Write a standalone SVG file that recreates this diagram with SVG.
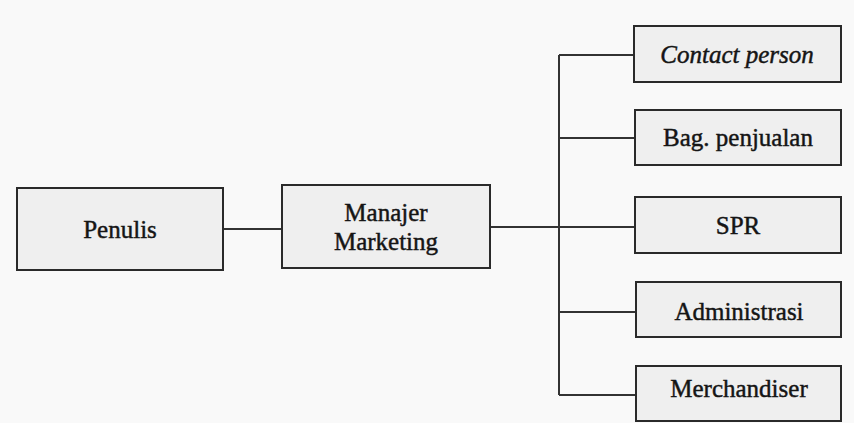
<svg xmlns="http://www.w3.org/2000/svg" width="854" height="423" viewBox="0 0 854 423">
  <style>
    .box { fill: #efefef; stroke: #2a2a2a; stroke-width: 2; }
    .lbl { font-family: "Liberation Serif", "Times New Roman", serif; font-size: 25px; fill: #151515; text-anchor: middle; stroke: #151515; stroke-width: 0.45; }
    .it { font-style: italic; }
    .conn { fill: none; stroke: #333333; stroke-width: 2; }
  </style>
  <rect x="0" y="0" width="854" height="423" fill="#f9f9f9"/>
  <g id="connectors">
    <line class="conn" x1="223" y1="229" x2="282" y2="229"/>
    <line class="conn" x1="490" y1="227" x2="635" y2="227"/>
    <line class="conn" x1="559" y1="55" x2="559" y2="395"/>
    <line class="conn" x1="559" y1="55" x2="634" y2="55"/>
    <line class="conn" x1="559" y1="138" x2="635" y2="138"/>
    <line class="conn" x1="559" y1="312" x2="636" y2="312"/>
    <line class="conn" x1="559" y1="395" x2="636" y2="395"/>
  </g>
  <g id="penulis">
    <rect class="box" x="17" y="188" width="206" height="82"/>
    <text class="lbl" x="120" y="238">Penulis</text>
  </g>
  <g id="manajer-marketing">
    <rect class="box" x="282" y="185" width="208" height="83"/>
    <text class="lbl" x="386" y="221">Manajer</text>
    <text class="lbl" x="386" y="250">Marketing</text>
  </g>
  <g id="contact-person">
    <rect class="box" x="634" y="26" width="207" height="56"/>
    <text class="lbl it" x="737" y="63">Contact person</text>
  </g>
  <g id="bag-penjualan">
    <rect class="box" x="635" y="110" width="206" height="55"/>
    <text class="lbl" x="738" y="146">Bag. penjualan</text>
  </g>
  <g id="spr">
    <rect class="box" x="635" y="197" width="206" height="56"/>
    <text class="lbl" x="738" y="234">SPR</text>
  </g>
  <g id="administrasi">
    <rect class="box" x="636" y="282" width="205" height="55"/>
    <text class="lbl" x="739" y="320">Administrasi</text>
  </g>
  <g id="merchandiser">
    <rect class="box" x="636" y="366" width="205" height="55"/>
    <text class="lbl" x="739" y="397">Merchandiser</text>
  </g>
</svg>
